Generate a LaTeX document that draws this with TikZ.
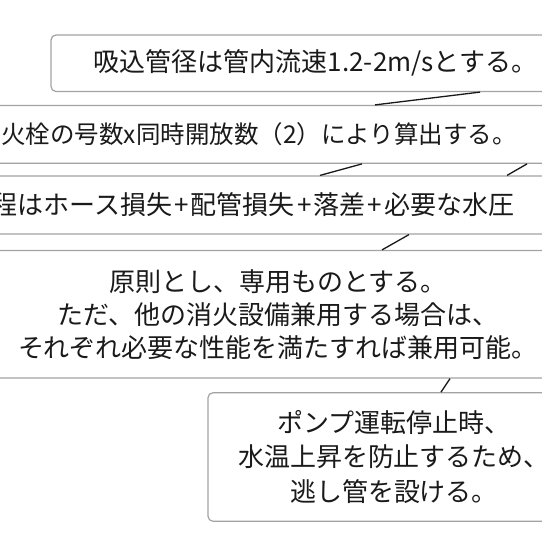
\documentclass[tikz,border=0pt]{standalone}
\usepackage{fontspec}
\setmainfont{Noto Sans CJK JP}
\definecolor{boxgray}{HTML}{A3A3A3}
\definecolor{inkc}{HTML}{1A1A1A}
\tikzset{
  callout/.style={draw=boxgray, line width=1.2pt, rounded corners=5pt, fill=white,
    inner sep=0pt, align=center, text=inkc},
  pointer/.style={draw=black!90, line width=1.3pt},
  jtext/.style={font=\fontsize{26}{33}\selectfont},
}
\newcommand{\pl}{\makebox[0.72em]{+}}
\begin{document}
\begin{tikzpicture}[x=1pt,y=-1pt]
\useasboundingbox (0,0) rectangle (542,542);
\fill[white] (0,0) rectangle (542,542);
\clip (0,0) rectangle (542,542);
\node[callout, jtext, minimum width=529, minimum height=56.5] (b1) at (315.5,63.25)
  {吸込管径は管内流速1.2-2m/sとする。};
\node[callout, minimum width=640, minimum height=57.8, font=\fontsize{24.5}{33}\selectfont] (b2) at (259,134.4)
  {火栓の号数x同時開放数（2）により算出する。};
\node[callout, jtext, minimum width=640, minimum height=58] (b3) at (253,205)
  {程はホース損失\pl 配管損失\pl 落差\pl 必要な水圧};
\node[callout, jtext, minimum width=640, minimum height=127.5] (b4) at (278,314.25)
  {原則とし、専用ものとする。\\ただ、他の消火設備兼用する場合は、\\それぞれ必要な性能を満たすれば兼用可能。};
\node[callout, minimum width=372, minimum height=128.5, font=\fontsize{26}{34.5}\selectfont] (b5) at (394,457)
  {ポンプ運転停止時、\\水温上昇を防止するため、\\逃し管を設ける。};
\draw[pointer] (b1.south -| 480,0) -- (b2.north -| 375,0);
\draw[pointer] (b2.south -| 362,0) -- (b3.north -| 320,0);
\draw[pointer] (b2.south -| 527,0) -- (b3.north -| 507,0);
\draw[pointer] (b3.south -| 409,0) -- (b4.north -| 382,0);
\draw[pointer] (b4.south -| 450,0) -- (b5.north -| 441,0);
\end{tikzpicture}
\end{document}
